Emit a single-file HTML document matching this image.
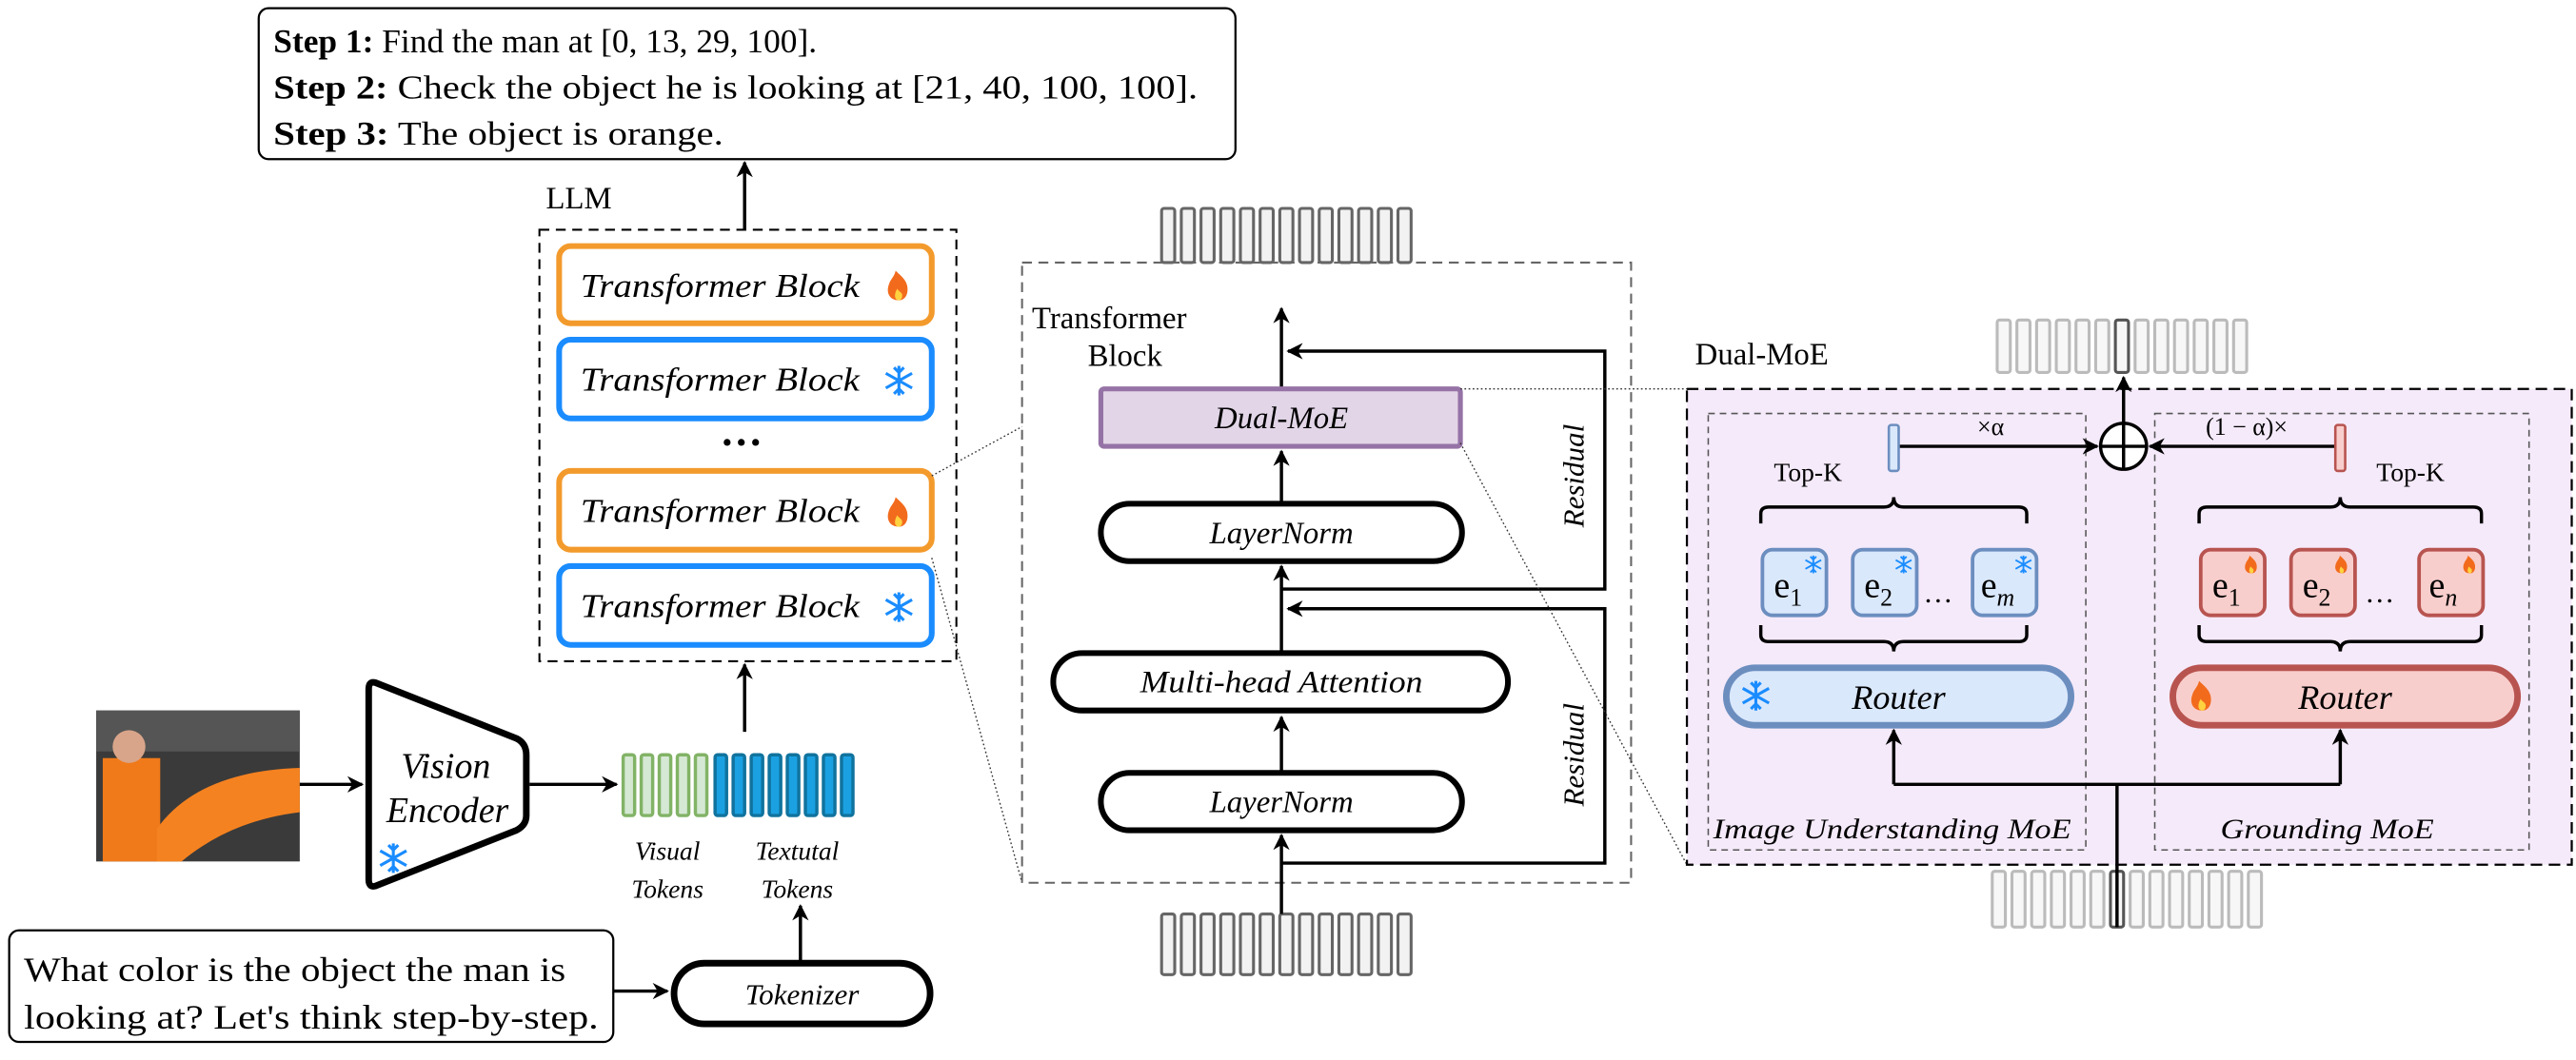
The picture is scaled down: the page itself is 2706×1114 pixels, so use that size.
<!DOCTYPE html>
<html><head><meta charset="utf-8"><style>
html,body{margin:0;padding:0;background:#fff}
svg{display:block}
text{font-family:"Liberation Serif","DejaVu Serif",serif;fill:#000}
.it{font-style:italic}
</style></head><body>
<svg width="2706" height="1114" viewBox="0 0 1568 646" xmlns="http://www.w3.org/2000/svg">
<defs>
<marker id="a" markerWidth="10" markerHeight="10" refX="9" refY="5" orient="auto" markerUnits="userSpaceOnUse"><path d="M0,0 L10,5 L0,10 L3,5 z" fill="#000"/></marker>
<g id="snow" stroke="#1a8cff" stroke-width="1.8" fill="none"><path d="M0,-9V9M-8,-4.5L8,4.5M-8,4.5L8,-4.5M-3,-8L0,-5L3,-8M-3,8L0,5L3,8"/></g>
<g id="fire"><path d="M0,9C-6,9 -8,4 -6,-1C-5,-4 -3,-5 -2,-9C1,-6 4,-4 5,0C6,5 4,9 0,9z" fill="#f26b1d"/><path d="M0,9C-3,9 -3,5 -1,2C0,4 2,4 2,6C2,8 1,9 0,9z" fill="#ffd23f"/></g>
</defs>

<!-- Steps box -->
<rect x="157" y="5" width="595" height="92" rx="6" fill="#fff" stroke="#000" stroke-width="1.3"/>
<text x="166" y="32" font-size="20" textLength="331" lengthAdjust="spacingAndGlyphs"><tspan font-weight="bold">Step 1:</tspan> Find the man at [0, 13, 29, 100].</text>
<text x="166" y="60" font-size="20" textLength="563" lengthAdjust="spacingAndGlyphs"><tspan font-weight="bold">Step 2:</tspan> Check the object he is looking at [21, 40, 100, 100].</text>
<text x="166" y="88" font-size="20" textLength="274" lengthAdjust="spacingAndGlyphs"><tspan font-weight="bold">Step 3:</tspan> The object is orange.</text>
<line x1="453" y1="140" x2="453" y2="99" stroke="#000" stroke-width="2" marker-end="url(#a)"/>

<!-- LLM -->
<text x="332" y="127" font-size="19">LLM</text>
<rect x="328" y="140" width="254" height="263" fill="none" stroke="#000" stroke-width="1.2" stroke-dasharray="6,4"/>
<rect x="340" y="150" width="227" height="47" rx="7" fill="#fff" stroke="#f39a2c" stroke-width="3.5"/>
<text x="353" y="181" font-size="20" class="it" textLength="170" lengthAdjust="spacingAndGlyphs">Transformer Block</text><use href="#fire" x="547" y="174"/>
<rect x="340" y="207" width="227" height="48" rx="7" fill="#fff" stroke="#1a8cff" stroke-width="3.5"/>
<text x="353" y="238" font-size="20" class="it" textLength="170" lengthAdjust="spacingAndGlyphs">Transformer Block</text><use href="#snow" x="547" y="232"/>
<text x="438" y="278" font-size="26" font-weight="bold">···</text>
<rect x="340" y="287" width="227" height="48" rx="7" fill="#fff" stroke="#f39a2c" stroke-width="3.5"/>
<text x="353" y="318" font-size="20" class="it" textLength="170" lengthAdjust="spacingAndGlyphs">Transformer Block</text><use href="#fire" x="547" y="312"/>
<rect x="340" y="345" width="227" height="48" rx="7" fill="#fff" stroke="#1a8cff" stroke-width="3.5"/>
<text x="353" y="376" font-size="20" class="it" textLength="170" lengthAdjust="spacingAndGlyphs">Transformer Block</text><use href="#snow" x="547" y="370"/>
<line x1="453" y1="446" x2="453" y2="405" stroke="#000" stroke-width="2" marker-end="url(#a)"/>

<!-- image -->
<rect x="58" y="433" width="124" height="92" fill="#3a3a3a"/>
<rect x="58" y="433" width="124" height="25" fill="#555"/>
<rect x="62" y="462" width="35" height="63" fill="#f07a1a"/>
<circle cx="78" cy="455" r="10" fill="#d9a58a"/>
<path d="M95,505 Q120,470 182,468 L182,495 Q140,500 110,525 L95,525z" fill="#f58220"/>
<line x1="182" y1="478" x2="220" y2="478" stroke="#000" stroke-width="2" marker-end="url(#a)"/>

<!-- Vision encoder -->
<path d="M228,416 L314,450 Q320,453 320,460 L320,497 Q320,503 314,506 L228,540 Q224,541 224,536 L224,420 Q224,415 228,416z" fill="#fff" stroke="#000" stroke-width="4"/>
<text x="271" y="474" font-size="22" class="it" text-anchor="middle">Vision</text>
<text x="272" y="501" font-size="22" class="it" text-anchor="middle">Encoder</text>
<use href="#snow" x="239" y="523"/>
<line x1="322" y1="478" x2="375" y2="478" stroke="#000" stroke-width="2" marker-end="url(#a)"/>

<!-- tokens -->
<g stroke="#82b366" stroke-width="2" fill="#d5e8d4">
<rect x="379" y="460" width="7" height="37" rx="1.5"/><rect x="390" y="460" width="7" height="37" rx="1.5"/><rect x="401" y="460" width="7" height="37" rx="1.5"/><rect x="412" y="460" width="7" height="37" rx="1.5"/><rect x="423" y="460" width="7" height="37" rx="1.5"/>
</g>
<g stroke="#10739e" stroke-width="2" fill="#1ba1e2">
<rect x="435" y="460" width="7" height="37" rx="1.5"/><rect x="446" y="460" width="7" height="37" rx="1.5"/><rect x="457" y="460" width="7" height="37" rx="1.5"/><rect x="468" y="460" width="7" height="37" rx="1.5"/><rect x="479" y="460" width="7" height="37" rx="1.5"/><rect x="490" y="460" width="7" height="37" rx="1.5"/><rect x="501" y="460" width="7" height="37" rx="1.5"/><rect x="512" y="460" width="7" height="37" rx="1.5"/>
</g>
<text x="406" y="524" font-size="16" class="it" text-anchor="middle">Visual</text>
<text x="406" y="547" font-size="16" class="it" text-anchor="middle">Tokens</text>
<text x="485" y="524" font-size="16" class="it" text-anchor="middle">Textutal</text>
<text x="485" y="547" font-size="16" class="it" text-anchor="middle">Tokens</text>

<!-- question -->
<rect x="5" y="567" width="368" height="68" rx="6" fill="#fff" stroke="#000" stroke-width="1.3"/>
<text x="14" y="598" font-size="21" textLength="330" lengthAdjust="spacingAndGlyphs">What color is the object the man is</text>
<text x="14" y="627" font-size="21" textLength="350" lengthAdjust="spacingAndGlyphs">looking at? Let's think step-by-step.</text>
<line x1="373" y1="604" x2="406" y2="604" stroke="#000" stroke-width="2" marker-end="url(#a)"/>
<rect x="410" y="587" width="156" height="37" rx="18.5" fill="#fff" stroke="#000" stroke-width="4"/>
<text x="488" y="612" font-size="18" class="it" text-anchor="middle">Tokenizer</text>
<line x1="487" y1="586" x2="487" y2="552" stroke="#000" stroke-width="2" marker-end="url(#a)"/>

<!-- dotted zoom lines -->
<line x1="567" y1="290" x2="622" y2="260" stroke="#333" stroke-width="0.8" stroke-dasharray="1,1.5"/>
<line x1="567" y1="340" x2="622" y2="538" stroke="#333" stroke-width="0.8" stroke-dasharray="1,1.5"/>

<!-- middle transformer block -->
<g stroke="#666" stroke-width="1.8" fill="#f2f2f2">
<rect x="707" y="127" width="8" height="33" rx="1.5"/><rect x="719" y="127" width="8" height="33" rx="1.5"/><rect x="731" y="127" width="8" height="33" rx="1.5"/><rect x="743" y="127" width="8" height="33" rx="1.5"/><rect x="755" y="127" width="8" height="33" rx="1.5"/><rect x="767" y="127" width="8" height="33" rx="1.5"/><rect x="779" y="127" width="8" height="33" rx="1.5"/><rect x="791" y="127" width="8" height="33" rx="1.5"/><rect x="803" y="127" width="8" height="33" rx="1.5"/><rect x="815" y="127" width="8" height="33" rx="1.5"/><rect x="827" y="127" width="8" height="33" rx="1.5"/><rect x="839" y="127" width="8" height="33" rx="1.5"/><rect x="851" y="127" width="8" height="33" rx="1.5"/>
<rect x="707" y="557" width="8" height="37" rx="1.5"/><rect x="719" y="557" width="8" height="37" rx="1.5"/><rect x="731" y="557" width="8" height="37" rx="1.5"/><rect x="743" y="557" width="8" height="37" rx="1.5"/><rect x="755" y="557" width="8" height="37" rx="1.5"/><rect x="767" y="557" width="8" height="37" rx="1.5"/><rect x="779" y="557" width="8" height="37" rx="1.5"/><rect x="791" y="557" width="8" height="37" rx="1.5"/><rect x="803" y="557" width="8" height="37" rx="1.5"/><rect x="815" y="557" width="8" height="37" rx="1.5"/><rect x="827" y="557" width="8" height="37" rx="1.5"/><rect x="839" y="557" width="8" height="37" rx="1.5"/><rect x="851" y="557" width="8" height="37" rx="1.5"/>
</g>
<rect x="622" y="160" width="371" height="378" fill="none" stroke="#666" stroke-width="1.2" stroke-dasharray="6,4"/>
<text x="628" y="200" font-size="19">Transformer</text>
<text x="662" y="223" font-size="19">Block</text>

<g stroke="#000" stroke-width="2" fill="none">
<line x1="780" y1="237" x2="780" y2="188" marker-end="url(#a)"/>
<line x1="780" y1="307" x2="780" y2="275" marker-end="url(#a)"/>
<line x1="780" y1="398" x2="780" y2="345" marker-end="url(#a)"/>
<line x1="780" y1="471" x2="780" y2="437" marker-end="url(#a)"/>
<line x1="780" y1="557" x2="780" y2="509" marker-end="url(#a)"/>
<polyline points="780,359 977,359 977,214 784,214" marker-end="url(#a)"/>
<polyline points="780,526 977,526 977,371 784,371" marker-end="url(#a)"/>
</g>
<rect x="670" y="237" width="219" height="35" rx="2" fill="#e1d5e7" stroke="#9673a6" stroke-width="3"/>
<text x="780" y="261" font-size="19" class="it" text-anchor="middle">Dual-MoE</text>
<rect x="670" y="307" width="220" height="35" rx="17.5" fill="#fff" stroke="#000" stroke-width="3.5"/>
<text x="780" y="331" font-size="19" class="it" text-anchor="middle">LayerNorm</text>
<rect x="641" y="398" width="277" height="35" rx="17.5" fill="#fff" stroke="#000" stroke-width="3.5"/>
<text x="780" y="422" font-size="19" class="it" text-anchor="middle" textLength="172" lengthAdjust="spacingAndGlyphs">Multi-head Attention</text>
<rect x="670" y="471" width="220" height="35" rx="17.5" fill="#fff" stroke="#000" stroke-width="3.5"/>
<text x="780" y="495" font-size="19" class="it" text-anchor="middle">LayerNorm</text>
<text transform="translate(964,290) rotate(-90)" font-size="18" class="it" text-anchor="middle">Residual</text>
<text transform="translate(964,460) rotate(-90)" font-size="18" class="it" text-anchor="middle">Residual</text>

<line x1="889" y1="237" x2="1027" y2="237" stroke="#333" stroke-width="0.8" stroke-dasharray="1,1.5"/>
<line x1="889" y1="270" x2="1027" y2="527" stroke="#333" stroke-width="0.8" stroke-dasharray="1,1.5"/>

<!-- Dual-MoE detail -->
<text x="1032" y="222" font-size="19">Dual-MoE</text>
<rect x="1027" y="237" width="539" height="290" fill="#f5eafa" stroke="#000" stroke-width="1.3" stroke-dasharray="7,4"/>
<rect x="1040" y="252" width="230" height="266" fill="none" stroke="#555" stroke-width="0.9" stroke-dasharray="4,3"/>
<rect x="1312" y="252" width="228" height="266" fill="none" stroke="#555" stroke-width="0.9" stroke-dasharray="4,3"/>
<g stroke="#bbb" stroke-width="1.8" fill="#f7f7f7">
<rect x="1216" y="195" width="8" height="32" rx="1.5"/><rect x="1228" y="195" width="8" height="32" rx="1.5"/><rect x="1240" y="195" width="8" height="32" rx="1.5"/><rect x="1252" y="195" width="8" height="32" rx="1.5"/><rect x="1264" y="195" width="8" height="32" rx="1.5"/><rect x="1276" y="195" width="8" height="32" rx="1.5"/><rect x="1300" y="195" width="8" height="32" rx="1.5"/><rect x="1312" y="195" width="8" height="32" rx="1.5"/><rect x="1324" y="195" width="8" height="32" rx="1.5"/><rect x="1336" y="195" width="8" height="32" rx="1.5"/><rect x="1348" y="195" width="8" height="32" rx="1.5"/><rect x="1360" y="195" width="8" height="32" rx="1.5"/>
<rect x="1213" y="531" width="8" height="34" rx="1.5"/><rect x="1225" y="531" width="8" height="34" rx="1.5"/><rect x="1237" y="531" width="8" height="34" rx="1.5"/><rect x="1249" y="531" width="8" height="34" rx="1.5"/><rect x="1261" y="531" width="8" height="34" rx="1.5"/><rect x="1273" y="531" width="8" height="34" rx="1.5"/><rect x="1297" y="531" width="8" height="34" rx="1.5"/><rect x="1309" y="531" width="8" height="34" rx="1.5"/><rect x="1321" y="531" width="8" height="34" rx="1.5"/><rect x="1333" y="531" width="8" height="34" rx="1.5"/><rect x="1345" y="531" width="8" height="34" rx="1.5"/><rect x="1357" y="531" width="8" height="34" rx="1.5"/><rect x="1369" y="531" width="8" height="34" rx="1.5"/>
</g>
<rect x="1288" y="195" width="8" height="32" rx="1.5" fill="#f7f7f7" stroke="#555" stroke-width="1.8"/>
<rect x="1285" y="531" width="8" height="34" rx="1.5" fill="#f7f7f7" stroke="#555" stroke-width="1.8"/>

<g stroke="#000" stroke-width="2" fill="none">
<line x1="1293" y1="258" x2="1293" y2="230" marker-end="url(#a)"/>
<line x1="1155" y1="272" x2="1277" y2="272" marker-end="url(#a)"/>
<line x1="1424" y1="272" x2="1309" y2="272" marker-end="url(#a)"/>
<line x1="1289" y1="565" x2="1289" y2="478"/>
<polyline points="1153,478 1425,478"/>
<line x1="1153" y1="478" x2="1153" y2="445" marker-end="url(#a)"/>
<line x1="1425" y1="478" x2="1425" y2="445" marker-end="url(#a)"/>
<circle cx="1293" cy="272" r="14" fill="#fff"/>
<line x1="1279" y1="272" x2="1307" y2="272"/><line x1="1293" y1="258" x2="1293" y2="286"/>
</g>
<rect x="1150" y="259" width="6" height="28" rx="1.5" fill="#dae8fc" stroke="#6c8ebf" stroke-width="1.5"/>
<rect x="1422" y="259" width="6" height="28" rx="1.5" fill="#f8cecc" stroke="#b85450" stroke-width="1.5"/>
<text x="1212" y="265" font-size="15" text-anchor="middle">×α</text>
<text x="1368" y="265" font-size="15" text-anchor="middle">(1 − α)×</text>
<text x="1080" y="293" font-size="16">Top-K</text>
<text x="1447" y="293" font-size="16">Top-K</text>

<g stroke="#000" stroke-width="2" fill="none">
<path d="M1072,319 V313 Q1072,309 1077,309 H1147 Q1153,309 1153,303 Q1153,309 1159,309 H1229 Q1234,309 1234,313 V319"/>
<path d="M1339,319 V313 Q1339,309 1344,309 H1419 Q1425,309 1425,303 Q1425,309 1431,309 H1506 Q1511,309 1511,313 V319"/>
<path d="M1072,381 V387 Q1072,391 1077,391 H1147 Q1153,391 1153,397 Q1153,391 1159,391 H1229 Q1234,391 1234,387 V381"/>
<path d="M1339,381 V387 Q1339,391 1344,391 H1419 Q1425,391 1425,397 Q1425,391 1431,391 H1506 Q1511,391 1511,387 V381"/>
</g>
<g stroke="#6c8ebf" stroke-width="2.2" fill="#dae8fc">
<rect x="1073" y="335" width="39" height="40" rx="6"/><rect x="1128" y="335" width="39" height="40" rx="6"/><rect x="1201" y="335" width="39" height="40" rx="6"/>
</g>
<g stroke="#b85450" stroke-width="2.2" fill="#f8cecc">
<rect x="1340" y="335" width="39" height="40" rx="6"/><rect x="1395" y="335" width="39" height="40" rx="6"/><rect x="1473" y="335" width="39" height="40" rx="6"/>
</g>
<text x="1080" y="364" font-size="22">e<tspan font-size="15" dy="5">1</tspan></text>
<text x="1135" y="364" font-size="22">e<tspan font-size="15" dy="5">2</tspan></text>
<text x="1206" y="364" font-size="22">e<tspan font-size="15" dy="5" class="it">m</tspan></text>
<text x="1347" y="364" font-size="22">e<tspan font-size="15" dy="5">1</tspan></text>
<text x="1402" y="364" font-size="22">e<tspan font-size="15" dy="5">2</tspan></text>
<text x="1479" y="364" font-size="22">e<tspan font-size="15" dy="5" class="it">n</tspan></text>
<text x="1171" y="367" font-size="18">…</text>
<text x="1440" y="367" font-size="18">…</text>
<use href="#snow" transform="translate(1104,344) scale(0.6)"/>
<use href="#snow" transform="translate(1159,344) scale(0.6)"/>
<use href="#snow" transform="translate(1232,344) scale(0.6)"/>
<use href="#fire" transform="translate(1371,344) scale(0.6)"/>
<use href="#fire" transform="translate(1426,344) scale(0.6)"/>
<use href="#fire" transform="translate(1504,344) scale(0.6)"/>

<rect x="1051" y="407" width="210" height="35" rx="17.5" fill="#dae8fc" stroke="#6c8ebf" stroke-width="4"/>
<text x="1156" y="432" font-size="21" class="it" text-anchor="middle">Router</text><use href="#snow" x="1069" y="424"/>
<rect x="1323" y="407" width="210" height="35" rx="17.5" fill="#f8cecc" stroke="#b85450" stroke-width="4"/>
<text x="1428" y="432" font-size="21" class="it" text-anchor="middle">Router</text><use href="#fire" x="1341" y="424"/>

<text x="1152" y="511" font-size="17" class="it" text-anchor="middle" textLength="218" lengthAdjust="spacingAndGlyphs">Image Understanding MoE</text>
<text x="1417" y="511" font-size="17" class="it" text-anchor="middle" textLength="130" lengthAdjust="spacingAndGlyphs">Grounding MoE</text>
</svg>
</body></html>
